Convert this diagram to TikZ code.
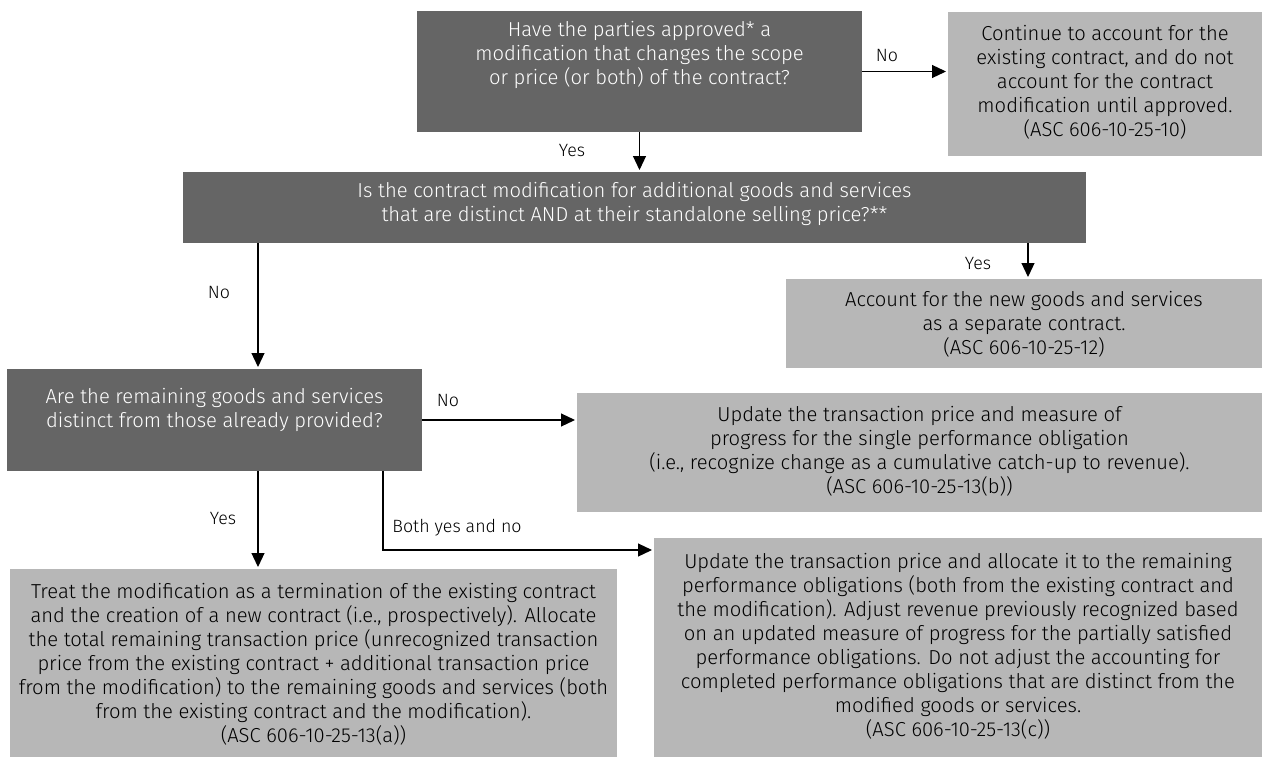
\documentclass[tikz,border=0pt]{standalone}
\usepackage{fontspec}
\setmainfont{Fira Sans}[UprightFont={* Light}]
\usetikzlibrary{arrows.meta}
\definecolor{qdark}{HTML}{656565}
\definecolor{qlight}{HTML}{B7B7B7}
\begin{document}
\begin{tikzpicture}[x=1pt,y=-1pt,
  box/.style={inner sep=0pt,outer sep=0pt,draw=none},
  darkbox/.style={box,fill=qdark},
  lightbox/.style={box,fill=qlight},
  txt/.style={inner sep=0pt,align=center,font=\fontsize{20.2}{24}\selectfont},
  wtxt/.style={txt,text=white},
  btxt/.style={txt,text=black},
  lbl/.style={inner sep=0pt,font=\fontsize{17.8}{20}\selectfont},
  arr/.style={draw=black,line width=1.2pt,-{Triangle[length=14pt,width=13pt]},shorten >=2pt}
]
\useasboundingbox (0,0) rectangle (1267,758);

% decision boxes
\node[darkbox,minimum width=445pt,minimum height=121pt] (qa) at (639.5,71.5) {};
\node[wtxt] (qa-t) at (639.5,55) {Have the parties approved* a\\modification that changes the scope\\or price (or both) of the contract?};

\node[darkbox,minimum width=903pt,minimum height=71pt] (qc) at (634.5,207.5) {};
\node[wtxt] (qc-t) at (634.5,204) {Is the contract modification for additional goods and services\\that are distinct AND at their standalone selling price?**};

\node[darkbox,minimum width=415pt,minimum height=102pt] (qe) at (214.5,420) {};
\node[wtxt] (qe-t) at (214.5,409.5) {Are the remaining goods and services\\distinct from those already provided?};

% outcome boxes
\node[lightbox,minimum width=314pt,minimum height=144pt] (qb) at (1105,84) {};
\node[btxt] (qb-t) at (1105,82) {Continue to account for the\\existing contract, and do not\\account for the contract\\modification until approved.\\(ASC 606-10-25-10)};

\node[lightbox,minimum width=476pt,minimum height=89pt] (qd) at (1024,323.5) {};
\node[btxt] (qd-t) at (1024,324) {Account for the new goods and services\\as a separate contract.\\(ASC 606-10-25-12)};

\node[lightbox,minimum width=685pt,minimum height=119pt] (qf) at (919.5,452.5) {};
\node[btxt] (qf-t) at (919.5,451) {Update the transaction price and measure of\\progress for the single performance obligation\\(i.e., recognize change as a cumulative catch-up to revenue).\\(ASC 606-10-25-13(b))};

\node[lightbox,minimum width=607pt,minimum height=188pt] (qg) at (313.5,663) {};
\node[btxt] (qg-t) at (313.5,664) {Treat the modification as a termination of the existing contract\\and the creation of a new contract (i.e., prospectively). Allocate\\the total remaining transaction price (unrecognized transaction\\price from the existing contract + additional transaction price\\from the modification) to the remaining goods and services (both\\from the existing contract and the modification).\\(ASC 606-10-25-13(a))};

\node[lightbox,minimum width=608pt,minimum height=219pt] (qh) at (958,647.5) {};
\node[btxt] (qh-t) at (958,646) {Update the transaction price and allocate it to the remaining\\performance obligations (both from the existing contract and\\the modification). Adjust revenue previously recognized based\\on an updated measure of progress for the partially satisfied\\performance obligations. Do not adjust the accounting for\\completed performance obligations that are distinct from the\\modified goods or services.\\(ASC 606-10-25-13(c))};

% connectors
\draw[arr] (qa.east) -- (qb.west |- qa.east);
\draw[arr] (qa.south) -- (qa.south |- qc.north);
\draw[arr] ([xshift=4pt]qd.north |- qc.south) -- ([xshift=4pt]qd.north);
\draw[arr] ([xshift=43.5pt]qe.north |- qc.south) -- ([xshift=43.5pt]qe.north);
\draw[arr] (qe.east) -- (qf.west |- qe.east);
\draw[arr] ([xshift=43.5pt]qe.south) -- ([xshift=43.5pt]qe.south |- qg.north);
\draw[arr] ([xshift=168.5pt]qe.south) |- ([yshift=-12pt]qh.north west);

% connector labels
\node[lbl] (l-ab) at (887,55) {No};
\node[lbl] (l-ac) at (572,150) {Yes};
\node[lbl] (l-cd) at (978,263) {Yes};
\node[lbl] (l-ce) at (219,292) {No};
\node[lbl] (l-ef) at (448,400) {No};
\node[lbl] (l-eg) at (223,518) {Yes};
\node[lbl] (l-eh) at (457,528) {Both yes and no};
\end{tikzpicture}
\end{document}
